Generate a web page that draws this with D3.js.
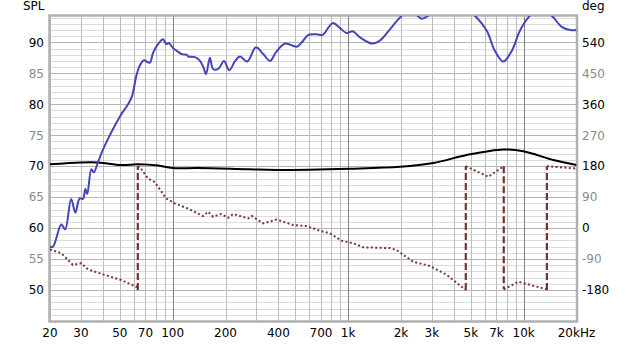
<!DOCTYPE html>
<html>
<head>
<meta charset="utf-8">
<script src="https://cdn.jsdelivr.net/npm/d3@7"></script>
<style>
  body { margin: 0; background: #fff; }
  svg text { font-family: "DejaVu Sans", sans-serif; font-size: 12px; }
</style>
</head>
<body>
<div id="chart"></div>
<script>
// SPL magnitude (blue), left axis dB
const splData = [
  [20, 57.0], [20.8, 57.0], [23.2, 60.6], [24.4, 59.8], [26.4, 64.7], [27.9, 62.5], [29.5, 64.8],
  [30.8, 64.7], [31.8, 66.3], [32.6, 65.5], [34.4, 69.5], [35.5, 69.0], [37.5, 70.6], [40.1, 72.7],
  [42.8, 74.4], [46.7, 76.5], [51.0, 78.4], [55.7, 80.0], [58.7, 81.3], [62.1, 84.6], [64.9, 86.2],
  [68.6, 87.1], [74.0, 86.7], [77.3, 88.3], [82.5, 89.7], [88.1, 90.5], [92.0, 89.7], [94.9, 89.9],
  [100.4, 89.1], [107, 88.5], [112.6, 88.1], [120, 88.0], [123, 87.7], [134, 87.6], [143, 87.0],
  [149.5, 86.0], [155, 84.9], [163, 87.5], [170, 85.7], [182, 85.7], [196, 87.0], [210, 85.5],
  [227, 87.0], [242, 87.7], [266, 86.9], [298, 89.2], [328, 88.1], [359, 87.0], [388, 88.4],
  [437, 89.8], [509, 89.3], [544, 90.0], [593, 91.2], [662, 91.3], [716, 91.2], [816, 93.1],
  [898, 92.3], [981, 91.5], [1061, 91.8], [1168, 90.8], [1362, 89.8], [1518, 90.3], [1730, 92.1],
  [1974, 94.0], [2250, 95.3], [2624, 93.8], [2860, 94.3], [3300, 96.0], [4200, 96.5], [5280, 94.3],
  [6152, 91.9], [6864, 88.6], [7656, 86.9], [8548, 88.6], [9530, 91.9], [10620, 94.0], [12300, 95.5],
  [14440, 94.3], [16470, 92.5], [18360, 92.0], [20000, 92.0]
];

// second magnitude trace (black), left axis dB
const refData = [
  [20, 70.3], [30, 70.6], [37.5, 70.6], [51, 70.2], [63.5, 70.3], [82.5, 70.1], [100, 69.7],
  [139, 69.7], [269, 69.5], [391, 69.4], [1024, 69.6], [1974, 69.9], [3055, 70.5], [4734, 71.8],
  [7656, 72.7], [9952, 72.4], [14750, 71.0], [20000, 70.2]
];

// phase (wrapped), right axis deg
const phaseData = [
  [20, -62], [23.2, -73], [27.0, -107], [30.2, -102], [32.9, -120], [41.0, -136], [51.0, -151],
  [62.9, -172], [63.3, -180], [63.3, 180], [64.9, 178], [72.4, 144], [79.0, 134], [92.0, 86],
  [102.7, 72], [122, 57], [149, 35], [159, 47.6], [170, 33], [189, 41], [207, 30], [221, 41],
  [269, 28], [282, 35], [328, 13.6], [391, 25], [487, 8.7], [580, 5.8], [691, -7.7], [788, -15.4],
  [919, -36.8], [1070, -44.4], [1220, -56], [1730, -58], [1890, -64], [2350, -98], [2926, -110],
  [3644, -136], [4630, -178], [4680, -180], [4680, 180], [6287, 149], [7700, 180], [7700, -178],
  [9322, -156], [10866, -165], [13530, -178], [13560, -180], [13560, 180], [20000, 173]
];

const xGrid = [20, 30, 40, 50, 60, 70, 80, 90, 100, 200, 300, 400, 500, 600, 700, 800, 900,
  1000, 2000, 3000, 4000, 5000, 6000, 7000, 8000, 9000, 10000, 20000];
const xTicks = [20, 30, 50, 70, 100, 200, 400, 700, 1000, 2000, 3000, 5000, 7000, 10000, 20000];
const xLabels = ["20", "30", "50", "70", "100", "200", "400", "700", "1k", "2k", "3k", "5k", "7k", "10k", "20kHz"];
const splTicks = [50, 55, 60, 65, 70, 75, 80, 85, 90];
const degTicks = [-180, -90, 0, 90, 180, 270, 360, 450, 540];

const margin = { top: 16, right: 63.5, bottom: 24, left: 50 },
    width = 640 - margin.left - margin.right,
    height = 345 - margin.top - margin.bottom;

const yMin = 45, yMax = 94.25;
var xScale = d3.scaleLog().domain([20, 20000]).range([0, width]);
var yScale = d3.scaleLinear().domain([yMin, yMax]).range([height, 0]);
// 0 deg sits at 60 dB, 18 deg per dB
var yDeg = d3.scaleLinear().domain([(yMin - 60) * 18, (yMax - 60) * 18]).range([height, 0]);

const root = d3.select("#chart")
    .append("svg")
    .attr("width", 640)
    .attr("height", 345);

root.append("text").attr("x", 23).attr("y", 10).text("SPL");
root.append("text").attr("x", 582).attr("y", 10).text("deg");

const svg = root.append("g")
    .attr("transform", `translate(${margin.left},${margin.top})`);

svg.append("defs").append("clipPath").attr("id", "plotclip")
    .append("rect").attr("width", width).attr("height", height);

// horizontal grid, 1 dB
svg.append("g").selectAll("line")
    .data(d3.range(46, 95))
    .enter().append("line")
    .attr("x1", 0).attr("x2", width)
    .attr("y1", d => Math.round(yScale(d)) + 0.5)
    .attr("y2", d => Math.round(yScale(d)) + 0.5)
    .attr("stroke", d => d % 5 == 0 ? "#b4b4b4" : "#dcdcdc")
    .attr("stroke-width", 1);

// vertical grid
svg.append("g").selectAll("line")
    .data(xGrid)
    .enter().append("line")
    .attr("x1", d => Math.round(xScale(d)) + 0.5)
    .attr("x2", d => Math.round(xScale(d)) + 0.5)
    .attr("y1", 0).attr("y2", height)
    .attr("stroke", d => [100, 1000, 10000].includes(d) ? "#808080" : "#bdbdbd")
    .attr("stroke-width", 1);

// frame
svg.append("rect")
    .attr("x", -0.5).attr("y", -0.5)
    .attr("width", width + 1).attr("height", height + 1)
    .attr("fill", "none")
    .attr("stroke", "#b0b0b0")
    .attr("stroke-width", 2.5);

// axis labels
svg.append("g").selectAll("text")
    .data(splTicks)
    .enter().append("text")
    .attr("x", -6)
    .attr("y", d => yScale(d))
    .attr("dy", "0.36em")
    .attr("text-anchor", "end")
    .attr("fill", d => d % 10 == 0 ? "#000" : "#8c8c8c")
    .text(d => d);

svg.append("g").selectAll("text")
    .data(degTicks)
    .enter().append("text")
    .attr("x", width + 5.5)
    .attr("y", d => yDeg(d))
    .attr("dy", "0.36em")
    .attr("text-anchor", "start")
    .attr("fill", d => d % 180 == 0 ? "#000" : "#8c8c8c")
    .text(d => d);

svg.append("g").selectAll("text")
    .data(xTicks)
    .enter().append("text")
    .attr("x", d => xScale(d))
    .attr("y", height + 15.5)
    .attr("text-anchor", "middle")
    .attr("fill", "#000")
    .text((d, i) => xLabels[i]);

const plot = svg.append("g").attr("clip-path", "url(#plotclip)");

const magLine = d3.line()
    .x(d => xScale(d[0]))
    .y(d => yScale(d[1]))
    .curve(d3.curveCatmullRom.alpha(0.5));

// phase: split into dotted runs and dashed wrap jumps
var runs = [[phaseData[0]]], jumps = [];
for (let i = 1; i < phaseData.length; i++) {
    const a = phaseData[i - 1], b = phaseData[i];
    if (Math.abs(b[1] - a[1]) > 270) {
        jumps.push([a, b]);
        runs.push([b]);
    } else runs[runs.length - 1].push(b);
}
const phaseLine = d3.line()
    .x(d => xScale(d[0]))
    .y(d => yDeg(d[1]));

plot.append("g").selectAll("path")
    .data(runs)
    .enter().append("path")
    .attr("d", phaseLine)
    .attr("fill", "none")
    .attr("stroke", "#7a3535")
    .attr("stroke-width", 2)
    .attr("stroke-dasharray", "2,2.4");

plot.append("g").selectAll("path")
    .data(jumps)
    .enter().append("path")
    .attr("d", phaseLine)
    .attr("fill", "none")
    .attr("stroke", "#7a3030")
    .attr("stroke-width", 2.2)
    .attr("stroke-dasharray", "7,3");

plot.append("path")
    .datum(refData)
    .attr("d", magLine)
    .attr("fill", "none")
    .attr("stroke", "#000")
    .attr("stroke-width", 2);

plot.append("path")
    .datum(splData)
    .attr("d", magLine)
    .attr("fill", "none")
    .attr("stroke", "#4545b5")
    .attr("stroke-width", 2);
</script>
</body>
</html>
